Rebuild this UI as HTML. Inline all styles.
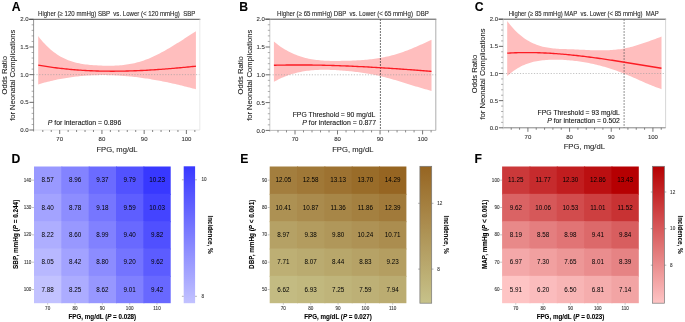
<!DOCTYPE html>
<html><head><meta charset="utf-8"><style>
html,body{margin:0;padding:0;background:#fff;width:685px;height:322px;overflow:hidden}
svg{display:block;filter:blur(0.3px)}
text{font-family:"Liberation Sans", sans-serif}
</style></head><body>
<svg width="685" height="322" viewBox="0 0 685 322">
<rect width="685" height="322" fill="#fff"/>
<polygon points="38.20,36.11 39.78,38.13 41.35,40.05 42.93,41.88 44.51,43.61 46.09,45.25 47.66,46.81 49.24,48.28 50.82,49.66 52.39,50.97 53.97,52.20 55.55,53.35 57.12,54.43 58.70,55.44 60.28,56.38 61.86,57.26 63.43,58.07 65.01,58.83 66.59,59.52 68.16,60.17 69.74,60.76 71.32,61.30 72.89,61.79 74.47,62.25 76.05,62.65 77.62,63.02 79.20,63.36 80.78,63.66 82.36,63.93 83.93,64.17 85.51,64.38 87.09,64.57 88.66,64.74 90.24,64.89 91.82,65.03 93.40,65.15 94.97,65.26 96.55,65.36 98.13,65.46 99.70,65.54 101.28,65.61 102.86,65.67 104.43,65.72 106.01,65.75 107.59,65.77 109.17,65.78 110.74,65.76 112.32,65.73 113.90,65.69 115.47,65.62 117.05,65.54 118.63,65.44 120.20,65.31 121.78,65.17 123.36,65.00 124.94,64.81 126.51,64.59 128.09,64.35 129.67,64.09 131.24,63.80 132.82,63.48 134.40,63.13 135.97,62.76 137.55,62.35 139.13,61.92 140.70,61.45 142.28,60.95 143.86,60.42 145.44,59.86 147.01,59.26 148.59,58.63 150.17,57.97 151.74,57.29 153.32,56.57 154.90,55.83 156.47,55.06 158.05,54.27 159.63,53.46 161.21,52.62 162.78,51.77 164.36,50.89 165.94,50.00 167.51,49.09 169.09,48.17 170.67,47.23 172.25,46.28 173.82,45.32 175.40,44.35 176.98,43.36 178.55,42.38 180.13,41.38 181.71,40.38 183.28,39.38 184.86,38.37 186.44,37.37 188.01,36.36 189.59,35.35 191.17,34.35 192.75,33.35 194.32,32.35 195.90,31.36 195.90,89.29 194.32,88.86 192.75,88.44 191.17,88.01 189.59,87.60 188.01,87.19 186.44,86.78 184.86,86.38 183.28,85.99 181.71,85.60 180.13,85.22 178.55,84.84 176.98,84.47 175.40,84.10 173.82,83.74 172.25,83.39 170.67,83.04 169.09,82.70 167.51,82.36 165.94,82.04 164.36,81.71 162.78,81.40 161.21,81.09 159.63,80.79 158.05,80.49 156.47,80.20 154.90,79.92 153.32,79.64 151.74,79.38 150.17,79.12 148.59,78.86 147.01,78.62 145.44,78.38 143.86,78.15 142.28,77.93 140.70,77.71 139.13,77.51 137.55,77.31 135.97,77.11 134.40,76.93 132.82,76.76 131.24,76.59 129.67,76.43 128.09,76.28 126.51,76.14 124.94,76.01 123.36,75.88 121.78,75.77 120.20,75.66 118.63,75.56 117.05,75.47 115.47,75.39 113.90,75.32 112.32,75.26 110.74,75.21 109.17,75.17 107.59,75.14 106.01,75.11 104.43,75.10 102.86,75.09 101.28,75.10 99.70,75.12 98.13,75.14 96.55,75.18 94.97,75.23 93.40,75.28 91.82,75.35 90.24,75.43 88.66,75.51 87.09,75.61 85.51,75.72 83.93,75.84 82.36,75.97 80.78,76.12 79.20,76.27 77.62,76.43 76.05,76.61 74.47,76.80 72.89,76.99 71.32,77.20 69.74,77.43 68.16,77.66 66.59,77.90 65.01,78.16 63.43,78.43 61.86,78.71 60.28,79.00 58.70,79.30 57.12,79.62 55.55,79.95 53.97,80.29 52.39,80.65 50.82,81.01 49.24,81.39 47.66,81.78 46.09,82.19 44.51,82.61 42.93,83.04 41.35,83.48 39.78,83.94 38.20,84.41" fill="#ffbebe"/>
<line x1="33.60" y1="74.65" x2="199.80" y2="74.65" stroke="#9a9a9a" stroke-width="0.6" stroke-dasharray="1.2 1.6"/>
<polyline points="38.20,65.10 39.78,65.38 41.35,65.65 42.93,65.91 44.51,66.17 46.09,66.42 47.66,66.66 49.24,66.89 50.82,67.12 52.39,67.34 53.97,67.55 55.55,67.76 57.12,67.96 58.70,68.15 60.28,68.34 61.86,68.52 63.43,68.69 65.01,68.86 66.59,69.02 68.16,69.18 69.74,69.33 71.32,69.47 72.89,69.61 74.47,69.74 76.05,69.86 77.62,69.98 79.20,70.09 80.78,70.20 82.36,70.30 83.93,70.40 85.51,70.49 87.09,70.57 88.66,70.65 90.24,70.72 91.82,70.79 93.40,70.85 94.97,70.91 96.55,70.96 98.13,71.01 99.70,71.05 101.28,71.09 102.86,71.12 104.43,71.15 106.01,71.17 107.59,71.19 109.17,71.20 110.74,71.21 112.32,71.21 113.90,71.21 115.47,71.20 117.05,71.19 118.63,71.18 120.20,71.16 121.78,71.13 123.36,71.11 124.94,71.07 126.51,71.04 128.09,71.00 129.67,70.95 131.24,70.90 132.82,70.85 134.40,70.79 135.97,70.73 137.55,70.67 139.13,70.60 140.70,70.53 142.28,70.46 143.86,70.38 145.44,70.30 147.01,70.21 148.59,70.12 150.17,70.03 151.74,69.94 153.32,69.84 154.90,69.74 156.47,69.63 158.05,69.53 159.63,69.42 161.21,69.30 162.78,69.19 164.36,69.07 165.94,68.95 167.51,68.83 169.09,68.70 170.67,68.57 172.25,68.44 173.82,68.30 175.40,68.17 176.98,68.03 178.55,67.89 180.13,67.75 181.71,67.60 183.28,67.45 184.86,67.30 186.44,67.15 188.01,67.00 189.59,66.85 191.17,66.69 192.75,66.53 194.32,66.37 195.90,66.21" fill="none" stroke="#fc1c24" stroke-width="1.35" stroke-linejoin="round"/>
<line x1="29.00" y1="19.30" x2="200.30" y2="19.30" stroke="#555" stroke-width="1"/>
<line x1="199.80" y1="19.30" x2="199.80" y2="130.00" stroke="#e4e4e4" stroke-width="0.8"/>
<line x1="33.60" y1="130.00" x2="199.80" y2="130.00" stroke="#e0e0e0" stroke-width="0.8"/>
<line x1="33.60" y1="19.30" x2="33.60" y2="131.50" stroke="#777" stroke-width="0.8"/>
<line x1="29.40" y1="130.00" x2="33.60" y2="130.00" stroke="#444" stroke-width="0.8"/>
<text x="28.60" y="132.10" font-size="6" text-anchor="end" fill="#333" stroke="#333" stroke-width="0.09" >0.0</text>
<line x1="31.60" y1="124.47" x2="33.60" y2="124.47" stroke="#777" stroke-width="0.6"/>
<line x1="31.60" y1="118.93" x2="33.60" y2="118.93" stroke="#777" stroke-width="0.6"/>
<line x1="31.60" y1="113.39" x2="33.60" y2="113.39" stroke="#777" stroke-width="0.6"/>
<line x1="31.60" y1="107.86" x2="33.60" y2="107.86" stroke="#777" stroke-width="0.6"/>
<line x1="29.40" y1="102.33" x2="33.60" y2="102.33" stroke="#444" stroke-width="0.8"/>
<text x="28.60" y="104.42" font-size="6" text-anchor="end" fill="#333" stroke="#333" stroke-width="0.09" >0.5</text>
<line x1="31.60" y1="96.79" x2="33.60" y2="96.79" stroke="#777" stroke-width="0.6"/>
<line x1="31.60" y1="91.25" x2="33.60" y2="91.25" stroke="#777" stroke-width="0.6"/>
<line x1="31.60" y1="85.72" x2="33.60" y2="85.72" stroke="#777" stroke-width="0.6"/>
<line x1="31.60" y1="80.19" x2="33.60" y2="80.19" stroke="#777" stroke-width="0.6"/>
<line x1="29.40" y1="74.65" x2="33.60" y2="74.65" stroke="#444" stroke-width="0.8"/>
<text x="28.60" y="76.75" font-size="6" text-anchor="end" fill="#333" stroke="#333" stroke-width="0.09" >1.0</text>
<line x1="31.60" y1="69.11" x2="33.60" y2="69.11" stroke="#777" stroke-width="0.6"/>
<line x1="31.60" y1="63.58" x2="33.60" y2="63.58" stroke="#777" stroke-width="0.6"/>
<line x1="31.60" y1="58.05" x2="33.60" y2="58.05" stroke="#777" stroke-width="0.6"/>
<line x1="31.60" y1="52.51" x2="33.60" y2="52.51" stroke="#777" stroke-width="0.6"/>
<line x1="29.40" y1="46.97" x2="33.60" y2="46.97" stroke="#444" stroke-width="0.8"/>
<text x="28.60" y="49.07" font-size="6" text-anchor="end" fill="#333" stroke="#333" stroke-width="0.09" >1.5</text>
<line x1="31.60" y1="41.44" x2="33.60" y2="41.44" stroke="#777" stroke-width="0.6"/>
<line x1="31.60" y1="35.90" x2="33.60" y2="35.90" stroke="#777" stroke-width="0.6"/>
<line x1="31.60" y1="30.37" x2="33.60" y2="30.37" stroke="#777" stroke-width="0.6"/>
<line x1="31.60" y1="24.83" x2="33.60" y2="24.83" stroke="#777" stroke-width="0.6"/>
<line x1="29.40" y1="19.30" x2="33.60" y2="19.30" stroke="#444" stroke-width="0.8"/>
<text x="28.60" y="21.40" font-size="6" text-anchor="end" fill="#333" stroke="#333" stroke-width="0.09" >2.0</text>
<line x1="42.81" y1="130.00" x2="42.81" y2="132.00" stroke="#555" stroke-width="0.7"/>
<line x1="51.25" y1="130.00" x2="51.25" y2="132.00" stroke="#555" stroke-width="0.7"/>
<line x1="59.70" y1="130.00" x2="59.70" y2="134.00" stroke="#555" stroke-width="0.8"/>
<text x="59.70" y="141.00" font-size="6" text-anchor="middle" fill="#333" stroke="#333" stroke-width="0.09" >70</text>
<line x1="68.15" y1="130.00" x2="68.15" y2="132.00" stroke="#555" stroke-width="0.7"/>
<line x1="76.59" y1="130.00" x2="76.59" y2="132.00" stroke="#555" stroke-width="0.7"/>
<line x1="85.04" y1="130.00" x2="85.04" y2="132.00" stroke="#555" stroke-width="0.7"/>
<line x1="93.48" y1="130.00" x2="93.48" y2="132.00" stroke="#555" stroke-width="0.7"/>
<line x1="101.93" y1="130.00" x2="101.93" y2="134.00" stroke="#555" stroke-width="0.8"/>
<text x="101.93" y="141.00" font-size="6" text-anchor="middle" fill="#333" stroke="#333" stroke-width="0.09" >80</text>
<line x1="110.38" y1="130.00" x2="110.38" y2="132.00" stroke="#555" stroke-width="0.7"/>
<line x1="118.82" y1="130.00" x2="118.82" y2="132.00" stroke="#555" stroke-width="0.7"/>
<line x1="127.27" y1="130.00" x2="127.27" y2="132.00" stroke="#555" stroke-width="0.7"/>
<line x1="135.71" y1="130.00" x2="135.71" y2="132.00" stroke="#555" stroke-width="0.7"/>
<line x1="144.16" y1="130.00" x2="144.16" y2="134.00" stroke="#555" stroke-width="0.8"/>
<text x="144.16" y="141.00" font-size="6" text-anchor="middle" fill="#333" stroke="#333" stroke-width="0.09" >90</text>
<line x1="152.61" y1="130.00" x2="152.61" y2="132.00" stroke="#555" stroke-width="0.7"/>
<line x1="161.05" y1="130.00" x2="161.05" y2="132.00" stroke="#555" stroke-width="0.7"/>
<line x1="169.50" y1="130.00" x2="169.50" y2="132.00" stroke="#555" stroke-width="0.7"/>
<line x1="177.94" y1="130.00" x2="177.94" y2="132.00" stroke="#555" stroke-width="0.7"/>
<line x1="186.39" y1="130.00" x2="186.39" y2="134.00" stroke="#555" stroke-width="0.8"/>
<text x="186.39" y="141.00" font-size="6" text-anchor="middle" fill="#333" stroke="#333" stroke-width="0.09" >100</text>
<line x1="194.84" y1="130.00" x2="194.84" y2="132.00" stroke="#555" stroke-width="0.7"/>
<text x="117.00" y="151.90" font-size="8" text-anchor="middle" fill="#222" textLength="41.2" lengthAdjust="spacingAndGlyphs" stroke="#222" stroke-width="0.09" >FPG, mg/dL</text>
<text x="7.00" y="75.30" font-size="7.6" text-anchor="middle" fill="#222" textLength="38.4" lengthAdjust="spacingAndGlyphs" transform="rotate(-90 7.00 75.30)" stroke="#222" stroke-width="0.09" >Odds Ratio</text>
<text x="15.40" y="75.30" font-size="7.6" text-anchor="middle" fill="#222" textLength="91.1" lengthAdjust="spacingAndGlyphs" transform="rotate(-90 15.40 75.30)" stroke="#222" stroke-width="0.09" >for Neonatal Complications</text>
<text x="38.00" y="16.40" font-size="7" text-anchor="start" fill="#222" textLength="157.4" lengthAdjust="spacingAndGlyphs" style="white-space:pre" stroke="#222" stroke-width="0.09" xml:space="preserve">Higher (≥ 120 mmHg) SBP  vs. Lower (&lt; 120 mmHg)  SBP</text>
<text x="11.80" y="11.30" font-size="12.2" text-anchor="start" fill="#000" font-weight="bold" stroke="#000" stroke-width="0.09" >A</text>
<text x="47.70" y="124.60" font-size="7" text-anchor="start" fill="#111" textLength="73.6" lengthAdjust="spacingAndGlyphs" stroke="#111" stroke-width="0.09" ><tspan font-style="italic">P</tspan> for interaction = 0.896</text>
<polygon points="273.90,41.56 275.48,42.85 277.05,44.09 278.63,45.27 280.20,46.39 281.78,47.46 283.36,48.48 284.93,49.44 286.51,50.36 288.08,51.22 289.66,52.04 291.24,52.81 292.81,53.54 294.39,54.22 295.96,54.87 297.54,55.47 299.12,56.03 300.69,56.55 302.27,57.03 303.84,57.48 305.42,57.90 307.00,58.28 308.57,58.63 310.15,58.94 311.72,59.23 313.30,59.49 314.88,59.73 316.45,59.94 318.03,60.12 319.60,60.28 321.18,60.42 322.76,60.54 324.33,60.64 325.91,60.73 327.48,60.79 329.06,60.84 330.64,60.88 332.21,60.90 333.79,60.92 335.36,60.92 336.94,60.92 338.52,60.90 340.09,60.89 341.67,60.86 343.24,60.84 344.82,60.81 346.40,60.77 347.97,60.73 349.55,60.69 351.12,60.64 352.70,60.58 354.28,60.52 355.85,60.45 357.43,60.37 359.00,60.28 360.58,60.18 362.16,60.07 363.73,59.96 365.31,59.83 366.88,59.69 368.46,59.53 370.04,59.37 371.61,59.19 373.19,58.99 374.76,58.79 376.34,58.56 377.92,58.32 379.49,58.07 381.07,57.80 382.64,57.51 384.22,57.20 385.80,56.87 387.37,56.53 388.95,56.16 390.52,55.78 392.10,55.37 393.68,54.94 395.25,54.49 396.83,54.02 398.40,53.52 399.98,53.01 401.56,52.47 403.13,51.92 404.71,51.35 406.28,50.76 407.86,50.15 409.44,49.53 411.01,48.90 412.59,48.25 414.16,47.59 415.74,46.92 417.32,46.24 418.89,45.56 420.47,44.86 422.04,44.15 423.62,43.44 425.20,42.73 426.77,42.01 428.35,41.29 429.92,40.56 431.50,39.83 431.50,90.88 429.92,90.47 428.35,90.05 426.77,89.62 425.20,89.18 423.62,88.73 422.04,88.27 420.47,87.80 418.89,87.33 417.32,86.86 415.74,86.38 414.16,85.89 412.59,85.41 411.01,84.92 409.44,84.43 407.86,83.94 406.28,83.45 404.71,82.96 403.13,82.47 401.56,81.99 399.98,81.51 398.40,81.03 396.83,80.56 395.25,80.10 393.68,79.64 392.10,79.19 390.52,78.75 388.95,78.32 387.37,77.90 385.80,77.48 384.22,77.08 382.64,76.69 381.07,76.31 379.49,75.94 377.92,75.58 376.34,75.24 374.76,74.91 373.19,74.59 371.61,74.28 370.04,73.99 368.46,73.71 366.88,73.45 365.31,73.19 363.73,72.95 362.16,72.71 360.58,72.49 359.00,72.28 357.43,72.08 355.85,71.89 354.28,71.70 352.70,71.53 351.12,71.37 349.55,71.21 347.97,71.06 346.40,70.92 344.82,70.78 343.24,70.65 341.67,70.53 340.09,70.42 338.52,70.31 336.94,70.21 335.36,70.11 333.79,70.03 332.21,69.96 330.64,69.90 329.06,69.85 327.48,69.81 325.91,69.79 324.33,69.78 322.76,69.79 321.18,69.81 319.60,69.85 318.03,69.90 316.45,69.98 314.88,70.07 313.30,70.19 311.72,70.32 310.15,70.48 308.57,70.65 307.00,70.85 305.42,71.08 303.84,71.33 302.27,71.60 300.69,71.91 299.12,72.23 297.54,72.59 295.96,72.98 294.39,73.39 292.81,73.84 291.24,74.31 289.66,74.82 288.08,75.36 286.51,75.93 284.93,76.54 283.36,77.19 281.78,77.87 280.20,78.58 278.63,79.34 277.05,80.13 275.48,80.96 273.90,81.83" fill="#ffbebe"/>
<line x1="269.80" y1="74.80" x2="435.80" y2="74.80" stroke="#9a9a9a" stroke-width="0.6" stroke-dasharray="1.2 1.6"/>
<line x1="380.40" y1="19.20" x2="380.40" y2="130.40" stroke="#222" stroke-width="0.8" stroke-dasharray="1.6 1.4"/>
<polyline points="273.90,65.28 275.48,65.24 277.05,65.20 278.63,65.17 280.20,65.13 281.78,65.10 283.36,65.08 284.93,65.05 286.51,65.03 288.08,65.01 289.66,65.00 291.24,64.98 292.81,64.97 294.39,64.96 295.96,64.96 297.54,64.96 299.12,64.96 300.69,64.96 302.27,64.96 303.84,64.97 305.42,64.98 307.00,64.99 308.57,65.00 310.15,65.02 311.72,65.04 313.30,65.06 314.88,65.08 316.45,65.11 318.03,65.13 319.60,65.16 321.18,65.20 322.76,65.23 324.33,65.27 325.91,65.30 327.48,65.34 329.06,65.39 330.64,65.43 332.21,65.48 333.79,65.53 335.36,65.58 336.94,65.63 338.52,65.68 340.09,65.74 341.67,65.80 343.24,65.85 344.82,65.92 346.40,65.98 347.97,66.04 349.55,66.11 351.12,66.18 352.70,66.25 354.28,66.32 355.85,66.39 357.43,66.47 359.00,66.55 360.58,66.62 362.16,66.70 363.73,66.78 365.31,66.87 366.88,66.95 368.46,67.04 370.04,67.12 371.61,67.21 373.19,67.30 374.76,67.39 376.34,67.48 377.92,67.58 379.49,67.67 381.07,67.77 382.64,67.86 384.22,67.96 385.80,68.06 387.37,68.16 388.95,68.26 390.52,68.37 392.10,68.47 393.68,68.58 395.25,68.68 396.83,68.79 398.40,68.90 399.98,69.01 401.56,69.12 403.13,69.23 404.71,69.34 406.28,69.45 407.86,69.56 409.44,69.68 411.01,69.79 412.59,69.91 414.16,70.03 415.74,70.14 417.32,70.26 418.89,70.38 420.47,70.50 422.04,70.62 423.62,70.74 425.20,70.86 426.77,70.98 428.35,71.10 429.92,71.22 431.50,71.35" fill="none" stroke="#fc1c24" stroke-width="1.35" stroke-linejoin="round"/>
<line x1="265.20" y1="19.20" x2="436.30" y2="19.20" stroke="#555" stroke-width="1"/>
<line x1="435.80" y1="19.20" x2="435.80" y2="130.40" stroke="#999" stroke-width="0.8"/>
<line x1="269.80" y1="130.40" x2="435.80" y2="130.40" stroke="#aaa" stroke-width="0.8"/>
<line x1="269.80" y1="19.20" x2="269.80" y2="131.90" stroke="#bbb" stroke-width="0.8"/>
<line x1="265.60" y1="130.40" x2="269.80" y2="130.40" stroke="#444" stroke-width="0.8"/>
<text x="264.80" y="132.50" font-size="6" text-anchor="end" fill="#333" stroke="#333" stroke-width="0.09" >0.0</text>
<line x1="267.80" y1="124.84" x2="269.80" y2="124.84" stroke="#777" stroke-width="0.6"/>
<line x1="267.80" y1="119.28" x2="269.80" y2="119.28" stroke="#777" stroke-width="0.6"/>
<line x1="267.80" y1="113.72" x2="269.80" y2="113.72" stroke="#777" stroke-width="0.6"/>
<line x1="267.80" y1="108.16" x2="269.80" y2="108.16" stroke="#777" stroke-width="0.6"/>
<line x1="265.60" y1="102.60" x2="269.80" y2="102.60" stroke="#444" stroke-width="0.8"/>
<text x="264.80" y="104.70" font-size="6" text-anchor="end" fill="#333" stroke="#333" stroke-width="0.09" >0.5</text>
<line x1="267.80" y1="97.04" x2="269.80" y2="97.04" stroke="#777" stroke-width="0.6"/>
<line x1="267.80" y1="91.48" x2="269.80" y2="91.48" stroke="#777" stroke-width="0.6"/>
<line x1="267.80" y1="85.92" x2="269.80" y2="85.92" stroke="#777" stroke-width="0.6"/>
<line x1="267.80" y1="80.36" x2="269.80" y2="80.36" stroke="#777" stroke-width="0.6"/>
<line x1="265.60" y1="74.80" x2="269.80" y2="74.80" stroke="#444" stroke-width="0.8"/>
<text x="264.80" y="76.90" font-size="6" text-anchor="end" fill="#333" stroke="#333" stroke-width="0.09" >1.0</text>
<line x1="267.80" y1="69.24" x2="269.80" y2="69.24" stroke="#777" stroke-width="0.6"/>
<line x1="267.80" y1="63.68" x2="269.80" y2="63.68" stroke="#777" stroke-width="0.6"/>
<line x1="267.80" y1="58.12" x2="269.80" y2="58.12" stroke="#777" stroke-width="0.6"/>
<line x1="267.80" y1="52.56" x2="269.80" y2="52.56" stroke="#777" stroke-width="0.6"/>
<line x1="265.60" y1="47.00" x2="269.80" y2="47.00" stroke="#444" stroke-width="0.8"/>
<text x="264.80" y="49.10" font-size="6" text-anchor="end" fill="#333" stroke="#333" stroke-width="0.09" >1.5</text>
<line x1="267.80" y1="41.44" x2="269.80" y2="41.44" stroke="#777" stroke-width="0.6"/>
<line x1="267.80" y1="35.88" x2="269.80" y2="35.88" stroke="#777" stroke-width="0.6"/>
<line x1="267.80" y1="30.32" x2="269.80" y2="30.32" stroke="#777" stroke-width="0.6"/>
<line x1="267.80" y1="24.76" x2="269.80" y2="24.76" stroke="#777" stroke-width="0.6"/>
<line x1="265.60" y1="19.20" x2="269.80" y2="19.20" stroke="#444" stroke-width="0.8"/>
<text x="264.80" y="21.30" font-size="6" text-anchor="end" fill="#333" stroke="#333" stroke-width="0.09" >2.0</text>
<line x1="277.99" y1="130.40" x2="277.99" y2="132.40" stroke="#555" stroke-width="0.7"/>
<line x1="286.49" y1="130.40" x2="286.49" y2="132.40" stroke="#555" stroke-width="0.7"/>
<line x1="295.00" y1="130.40" x2="295.00" y2="134.40" stroke="#555" stroke-width="0.8"/>
<text x="295.00" y="141.40" font-size="6" text-anchor="middle" fill="#333" stroke="#333" stroke-width="0.09" >70</text>
<line x1="303.51" y1="130.40" x2="303.51" y2="132.40" stroke="#555" stroke-width="0.7"/>
<line x1="312.01" y1="130.40" x2="312.01" y2="132.40" stroke="#555" stroke-width="0.7"/>
<line x1="320.52" y1="130.40" x2="320.52" y2="132.40" stroke="#555" stroke-width="0.7"/>
<line x1="329.02" y1="130.40" x2="329.02" y2="132.40" stroke="#555" stroke-width="0.7"/>
<line x1="337.53" y1="130.40" x2="337.53" y2="134.40" stroke="#555" stroke-width="0.8"/>
<text x="337.53" y="141.40" font-size="6" text-anchor="middle" fill="#333" stroke="#333" stroke-width="0.09" >80</text>
<line x1="346.04" y1="130.40" x2="346.04" y2="132.40" stroke="#555" stroke-width="0.7"/>
<line x1="354.54" y1="130.40" x2="354.54" y2="132.40" stroke="#555" stroke-width="0.7"/>
<line x1="363.05" y1="130.40" x2="363.05" y2="132.40" stroke="#555" stroke-width="0.7"/>
<line x1="371.55" y1="130.40" x2="371.55" y2="132.40" stroke="#555" stroke-width="0.7"/>
<line x1="380.06" y1="130.40" x2="380.06" y2="134.40" stroke="#555" stroke-width="0.8"/>
<text x="380.06" y="141.40" font-size="6" text-anchor="middle" fill="#333" stroke="#333" stroke-width="0.09" >90</text>
<line x1="388.57" y1="130.40" x2="388.57" y2="132.40" stroke="#555" stroke-width="0.7"/>
<line x1="397.07" y1="130.40" x2="397.07" y2="132.40" stroke="#555" stroke-width="0.7"/>
<line x1="405.58" y1="130.40" x2="405.58" y2="132.40" stroke="#555" stroke-width="0.7"/>
<line x1="414.08" y1="130.40" x2="414.08" y2="132.40" stroke="#555" stroke-width="0.7"/>
<line x1="422.59" y1="130.40" x2="422.59" y2="134.40" stroke="#555" stroke-width="0.8"/>
<text x="422.59" y="141.40" font-size="6" text-anchor="middle" fill="#333" stroke="#333" stroke-width="0.09" >100</text>
<line x1="431.10" y1="130.40" x2="431.10" y2="132.40" stroke="#555" stroke-width="0.7"/>
<text x="352.80" y="151.90" font-size="8" text-anchor="middle" fill="#222" textLength="41.2" lengthAdjust="spacingAndGlyphs" stroke="#222" stroke-width="0.09" >FPG, mg/dL</text>
<text x="243.20" y="75.30" font-size="7.6" text-anchor="middle" fill="#222" textLength="38.4" lengthAdjust="spacingAndGlyphs" transform="rotate(-90 243.20 75.30)" stroke="#222" stroke-width="0.09" >Odds Ratio</text>
<text x="251.60" y="75.30" font-size="7.6" text-anchor="middle" fill="#222" textLength="91.1" lengthAdjust="spacingAndGlyphs" transform="rotate(-90 251.60 75.30)" stroke="#222" stroke-width="0.09" >for Neonatal Complications</text>
<text x="277.00" y="16.40" font-size="7" text-anchor="start" fill="#222" textLength="151.8" lengthAdjust="spacingAndGlyphs" style="white-space:pre" stroke="#222" stroke-width="0.09" xml:space="preserve">Higher (≥ 65 mmHg) DBP  vs. Lower (&lt; 65 mmHg)  DBP</text>
<text x="239.30" y="11.30" font-size="12.2" text-anchor="start" fill="#000" font-weight="bold" stroke="#000" stroke-width="0.09" >B</text>
<text x="375.30" y="117.40" font-size="7" text-anchor="end" fill="#111" textLength="82.6" lengthAdjust="spacingAndGlyphs" stroke="#111" stroke-width="0.09" >FPG Threshold = 90 mg/dL</text>
<text x="376.00" y="125.00" font-size="7" text-anchor="end" fill="#111" textLength="73.7" lengthAdjust="spacingAndGlyphs" stroke="#111" stroke-width="0.09" ><tspan font-style="italic">P</tspan> for interaction = 0.877</text>
<polygon points="507.20,21.00 508.74,23.03 510.29,24.95 511.83,26.78 513.37,28.51 514.91,30.15 516.46,31.70 518.00,33.16 519.54,34.53 521.09,35.82 522.63,37.03 524.17,38.16 525.72,39.21 527.26,40.20 528.80,41.11 530.35,41.96 531.89,42.74 533.43,43.46 534.97,44.12 536.52,44.73 538.06,45.28 539.60,45.78 541.15,46.23 542.69,46.64 544.23,47.00 545.77,47.33 547.32,47.61 548.86,47.87 550.40,48.09 551.95,48.28 553.49,48.44 555.03,48.58 556.58,48.70 558.12,48.80 559.66,48.88 561.21,48.96 562.75,49.02 564.29,49.07 565.83,49.12 567.38,49.16 568.92,49.21 570.46,49.26 572.01,49.31 573.55,49.37 575.09,49.43 576.63,49.50 578.18,49.57 579.72,49.65 581.26,49.72 582.81,49.79 584.35,49.87 585.89,49.94 587.44,50.01 588.98,50.07 590.52,50.13 592.07,50.19 593.61,50.24 595.15,50.28 596.69,50.31 598.24,50.34 599.78,50.35 601.32,50.35 602.87,50.34 604.41,50.32 605.95,50.28 607.50,50.23 609.04,50.16 610.58,50.08 612.12,49.98 613.67,49.86 615.21,49.72 616.75,49.55 618.30,49.37 619.84,49.17 621.38,48.94 622.92,48.69 624.47,48.41 626.01,48.10 627.55,47.77 629.10,47.42 630.64,47.04 632.18,46.64 633.73,46.22 635.27,45.78 636.81,45.32 638.36,44.85 639.90,44.36 641.44,43.85 642.98,43.34 644.53,42.81 646.07,42.27 647.61,41.72 649.16,41.17 650.70,40.60 652.24,40.04 653.78,39.47 655.33,38.90 656.87,38.32 658.41,37.75 659.96,37.18 661.50,36.61 661.50,89.14 659.96,88.62 658.41,88.08 656.87,87.51 655.33,86.93 653.78,86.33 652.24,85.72 650.70,85.09 649.16,84.45 647.61,83.79 646.07,83.13 644.53,82.46 642.98,81.79 641.44,81.10 639.90,80.42 638.36,79.74 636.81,79.05 635.27,78.37 633.73,77.69 632.18,77.01 630.64,76.34 629.10,75.68 627.55,75.03 626.01,74.39 624.47,73.76 622.92,73.15 621.38,72.55 619.84,71.96 618.30,71.39 616.75,70.83 615.21,70.28 613.67,69.75 612.12,69.23 610.58,68.73 609.04,68.24 607.50,67.76 605.95,67.29 604.41,66.84 602.87,66.41 601.32,65.98 599.78,65.57 598.24,65.18 596.69,64.80 595.15,64.43 593.61,64.07 592.07,63.73 590.52,63.40 588.98,63.09 587.44,62.79 585.89,62.50 584.35,62.23 582.81,61.97 581.26,61.72 579.72,61.49 578.18,61.27 576.63,61.07 575.09,60.88 573.55,60.70 572.01,60.54 570.46,60.40 568.92,60.26 567.38,60.14 565.83,60.04 564.29,59.95 562.75,59.87 561.21,59.81 559.66,59.77 558.12,59.73 556.58,59.72 555.03,59.71 553.49,59.73 551.95,59.75 550.40,59.79 548.86,59.85 547.32,59.93 545.77,60.03 544.23,60.15 542.69,60.30 541.15,60.47 539.60,60.68 538.06,60.92 536.52,61.19 534.97,61.50 533.43,61.85 531.89,62.25 530.35,62.68 528.80,63.16 527.26,63.70 525.72,64.28 524.17,64.91 522.63,65.61 521.09,66.36 519.54,67.16 518.00,68.04 516.46,68.97 514.91,69.98 513.37,71.05 511.83,72.20 510.29,73.41 508.74,74.71 507.20,76.08" fill="#ffbebe"/>
<line x1="503.10" y1="73.50" x2="665.60" y2="73.50" stroke="#9a9a9a" stroke-width="0.6" stroke-dasharray="1.2 1.6"/>
<line x1="624.10" y1="19.20" x2="624.10" y2="127.80" stroke="#555" stroke-width="0.8" stroke-dasharray="1.6 1.4"/>
<polyline points="507.20,53.17 508.74,53.08 510.29,52.99 511.83,52.92 513.37,52.85 514.91,52.79 516.46,52.74 518.00,52.69 519.54,52.65 521.09,52.62 522.63,52.60 524.17,52.58 525.72,52.57 527.26,52.57 528.80,52.57 530.35,52.58 531.89,52.60 533.43,52.63 534.97,52.65 536.52,52.69 538.06,52.73 539.60,52.78 541.15,52.84 542.69,52.90 544.23,52.96 545.77,53.03 547.32,53.11 548.86,53.19 550.40,53.28 551.95,53.38 553.49,53.48 555.03,53.58 556.58,53.69 558.12,53.80 559.66,53.92 561.21,54.05 562.75,54.18 564.29,54.31 565.83,54.45 567.38,54.59 568.92,54.74 570.46,54.89 572.01,55.05 573.55,55.21 575.09,55.37 576.63,55.54 578.18,55.71 579.72,55.89 581.26,56.07 582.81,56.25 584.35,56.43 585.89,56.62 587.44,56.82 588.98,57.01 590.52,57.21 592.07,57.42 593.61,57.62 595.15,57.83 596.69,58.04 598.24,58.25 599.78,58.47 601.32,58.69 602.87,58.91 604.41,59.14 605.95,59.36 607.50,59.59 609.04,59.82 610.58,60.05 612.12,60.29 613.67,60.52 615.21,60.76 616.75,61.00 618.30,61.24 619.84,61.48 621.38,61.73 622.92,61.97 624.47,62.22 626.01,62.47 627.55,62.71 629.10,62.96 630.64,63.21 632.18,63.46 633.73,63.72 635.27,63.97 636.81,64.22 638.36,64.47 639.90,64.73 641.44,64.98 642.98,65.23 644.53,65.49 646.07,65.74 647.61,65.99 649.16,66.25 650.70,66.50 652.24,66.75 653.78,67.00 655.33,67.26 656.87,67.51 658.41,67.76 659.96,68.01 661.50,68.25" fill="none" stroke="#fc1c24" stroke-width="1.35" stroke-linejoin="round"/>
<line x1="498.50" y1="19.20" x2="666.10" y2="19.20" stroke="#555" stroke-width="1"/>
<line x1="665.60" y1="19.20" x2="665.60" y2="127.80" stroke="#ccc" stroke-width="0.8"/>
<line x1="503.10" y1="127.80" x2="665.60" y2="127.80" stroke="#666" stroke-width="0.8"/>
<line x1="503.10" y1="19.20" x2="503.10" y2="129.30" stroke="#ccc" stroke-width="0.8"/>
<line x1="498.90" y1="127.80" x2="503.10" y2="127.80" stroke="#444" stroke-width="0.8"/>
<text x="498.10" y="129.90" font-size="6" text-anchor="end" fill="#333" stroke="#333" stroke-width="0.09" >0.0</text>
<line x1="501.10" y1="122.37" x2="503.10" y2="122.37" stroke="#777" stroke-width="0.6"/>
<line x1="501.10" y1="116.94" x2="503.10" y2="116.94" stroke="#777" stroke-width="0.6"/>
<line x1="501.10" y1="111.51" x2="503.10" y2="111.51" stroke="#777" stroke-width="0.6"/>
<line x1="501.10" y1="106.08" x2="503.10" y2="106.08" stroke="#777" stroke-width="0.6"/>
<line x1="498.90" y1="100.65" x2="503.10" y2="100.65" stroke="#444" stroke-width="0.8"/>
<text x="498.10" y="102.75" font-size="6" text-anchor="end" fill="#333" stroke="#333" stroke-width="0.09" >0.5</text>
<line x1="501.10" y1="95.22" x2="503.10" y2="95.22" stroke="#777" stroke-width="0.6"/>
<line x1="501.10" y1="89.79" x2="503.10" y2="89.79" stroke="#777" stroke-width="0.6"/>
<line x1="501.10" y1="84.36" x2="503.10" y2="84.36" stroke="#777" stroke-width="0.6"/>
<line x1="501.10" y1="78.93" x2="503.10" y2="78.93" stroke="#777" stroke-width="0.6"/>
<line x1="498.90" y1="73.50" x2="503.10" y2="73.50" stroke="#444" stroke-width="0.8"/>
<text x="498.10" y="75.60" font-size="6" text-anchor="end" fill="#333" stroke="#333" stroke-width="0.09" >1.0</text>
<line x1="501.10" y1="68.07" x2="503.10" y2="68.07" stroke="#777" stroke-width="0.6"/>
<line x1="501.10" y1="62.64" x2="503.10" y2="62.64" stroke="#777" stroke-width="0.6"/>
<line x1="501.10" y1="57.21" x2="503.10" y2="57.21" stroke="#777" stroke-width="0.6"/>
<line x1="501.10" y1="51.78" x2="503.10" y2="51.78" stroke="#777" stroke-width="0.6"/>
<line x1="498.90" y1="46.35" x2="503.10" y2="46.35" stroke="#444" stroke-width="0.8"/>
<text x="498.10" y="48.45" font-size="6" text-anchor="end" fill="#333" stroke="#333" stroke-width="0.09" >1.5</text>
<line x1="501.10" y1="40.92" x2="503.10" y2="40.92" stroke="#777" stroke-width="0.6"/>
<line x1="501.10" y1="35.49" x2="503.10" y2="35.49" stroke="#777" stroke-width="0.6"/>
<line x1="501.10" y1="30.06" x2="503.10" y2="30.06" stroke="#777" stroke-width="0.6"/>
<line x1="501.10" y1="24.63" x2="503.10" y2="24.63" stroke="#777" stroke-width="0.6"/>
<line x1="498.90" y1="19.20" x2="503.10" y2="19.20" stroke="#444" stroke-width="0.8"/>
<text x="498.10" y="21.30" font-size="6" text-anchor="end" fill="#333" stroke="#333" stroke-width="0.09" >2.0</text>
<line x1="511.23" y1="127.80" x2="511.23" y2="129.80" stroke="#555" stroke-width="0.7"/>
<line x1="519.57" y1="127.80" x2="519.57" y2="129.80" stroke="#555" stroke-width="0.7"/>
<line x1="527.90" y1="127.80" x2="527.90" y2="131.80" stroke="#555" stroke-width="0.8"/>
<text x="527.90" y="138.80" font-size="6" text-anchor="middle" fill="#333" stroke="#333" stroke-width="0.09" >70</text>
<line x1="536.23" y1="127.80" x2="536.23" y2="129.80" stroke="#555" stroke-width="0.7"/>
<line x1="544.57" y1="127.80" x2="544.57" y2="129.80" stroke="#555" stroke-width="0.7"/>
<line x1="552.90" y1="127.80" x2="552.90" y2="129.80" stroke="#555" stroke-width="0.7"/>
<line x1="561.24" y1="127.80" x2="561.24" y2="129.80" stroke="#555" stroke-width="0.7"/>
<line x1="569.57" y1="127.80" x2="569.57" y2="131.80" stroke="#555" stroke-width="0.8"/>
<text x="569.57" y="138.80" font-size="6" text-anchor="middle" fill="#333" stroke="#333" stroke-width="0.09" >80</text>
<line x1="577.90" y1="127.80" x2="577.90" y2="129.80" stroke="#555" stroke-width="0.7"/>
<line x1="586.24" y1="127.80" x2="586.24" y2="129.80" stroke="#555" stroke-width="0.7"/>
<line x1="594.57" y1="127.80" x2="594.57" y2="129.80" stroke="#555" stroke-width="0.7"/>
<line x1="602.91" y1="127.80" x2="602.91" y2="129.80" stroke="#555" stroke-width="0.7"/>
<line x1="611.24" y1="127.80" x2="611.24" y2="131.80" stroke="#555" stroke-width="0.8"/>
<text x="611.24" y="138.80" font-size="6" text-anchor="middle" fill="#333" stroke="#333" stroke-width="0.09" >90</text>
<line x1="619.57" y1="127.80" x2="619.57" y2="129.80" stroke="#555" stroke-width="0.7"/>
<line x1="627.91" y1="127.80" x2="627.91" y2="129.80" stroke="#555" stroke-width="0.7"/>
<line x1="636.24" y1="127.80" x2="636.24" y2="129.80" stroke="#555" stroke-width="0.7"/>
<line x1="644.58" y1="127.80" x2="644.58" y2="129.80" stroke="#555" stroke-width="0.7"/>
<line x1="652.91" y1="127.80" x2="652.91" y2="131.80" stroke="#555" stroke-width="0.8"/>
<text x="652.91" y="138.80" font-size="6" text-anchor="middle" fill="#333" stroke="#333" stroke-width="0.09" >100</text>
<line x1="661.24" y1="127.80" x2="661.24" y2="129.80" stroke="#555" stroke-width="0.7"/>
<text x="584.30" y="148.80" font-size="8" text-anchor="middle" fill="#222" textLength="41.2" lengthAdjust="spacingAndGlyphs" stroke="#222" stroke-width="0.09" >FPG, mg/dL</text>
<text x="476.50" y="74.00" font-size="7.6" text-anchor="middle" fill="#222" textLength="38.4" lengthAdjust="spacingAndGlyphs" transform="rotate(-90 476.50 74.00)" stroke="#222" stroke-width="0.09" >Odds Ratio</text>
<text x="484.90" y="74.00" font-size="7.6" text-anchor="middle" fill="#222" textLength="91.1" lengthAdjust="spacingAndGlyphs" transform="rotate(-90 484.90 74.00)" stroke="#222" stroke-width="0.09" >for Neonatal Complications</text>
<text x="508.80" y="16.40" font-size="7" text-anchor="start" fill="#222" textLength="149.9" lengthAdjust="spacingAndGlyphs" style="white-space:pre" stroke="#222" stroke-width="0.09" xml:space="preserve">Higher (≥ 85 mmHg) MAP  vs. Lower (&lt; 85 mmHg)  MAP</text>
<text x="474.80" y="11.30" font-size="12.2" text-anchor="start" fill="#000" font-weight="bold" stroke="#000" stroke-width="0.09" >C</text>
<text x="619.90" y="115.40" font-size="7" text-anchor="end" fill="#111" textLength="82.3" lengthAdjust="spacingAndGlyphs" stroke="#111" stroke-width="0.09" >FPG Threshold = 93 mg/dL</text>
<text x="619.90" y="122.60" font-size="7" text-anchor="end" fill="#111" textLength="72.7" lengthAdjust="spacingAndGlyphs" stroke="#111" stroke-width="0.09" ><tspan font-style="italic">P</tspan> for interaction = 0.502</text>
<rect x="34.00" y="166.50" width="28.34" height="28.34" fill="#9999ff"/>
<rect x="61.34" y="166.50" width="28.34" height="28.34" fill="#8383ff"/>
<rect x="88.68" y="166.50" width="28.34" height="28.34" fill="#6b6bff"/>
<rect x="116.02" y="166.50" width="28.34" height="28.34" fill="#5252ff"/>
<rect x="143.36" y="166.50" width="27.34" height="28.34" fill="#3838ff"/>
<rect x="34.00" y="193.84" width="28.34" height="28.34" fill="#a3a3ff"/>
<rect x="61.34" y="193.84" width="28.34" height="28.34" fill="#8d8dff"/>
<rect x="88.68" y="193.84" width="28.34" height="28.34" fill="#7676ff"/>
<rect x="116.02" y="193.84" width="28.34" height="28.34" fill="#5e5eff"/>
<rect x="143.36" y="193.84" width="27.34" height="28.34" fill="#4444ff"/>
<rect x="34.00" y="221.18" width="28.34" height="28.34" fill="#aeaeff"/>
<rect x="61.34" y="221.18" width="28.34" height="28.34" fill="#9898ff"/>
<rect x="88.68" y="221.18" width="28.34" height="28.34" fill="#8181ff"/>
<rect x="116.02" y="221.18" width="28.34" height="28.34" fill="#6969ff"/>
<rect x="143.36" y="221.18" width="27.34" height="28.34" fill="#5050ff"/>
<rect x="34.00" y="248.52" width="28.34" height="28.34" fill="#b8b8ff"/>
<rect x="61.34" y="248.52" width="28.34" height="28.34" fill="#a2a2ff"/>
<rect x="88.68" y="248.52" width="28.34" height="28.34" fill="#8c8cff"/>
<rect x="116.02" y="248.52" width="28.34" height="28.34" fill="#7474ff"/>
<rect x="143.36" y="248.52" width="27.34" height="28.34" fill="#5c5cff"/>
<rect x="34.00" y="275.86" width="28.34" height="27.34" fill="#c2c2ff"/>
<rect x="61.34" y="275.86" width="28.34" height="27.34" fill="#acacff"/>
<rect x="88.68" y="275.86" width="28.34" height="27.34" fill="#9797ff"/>
<rect x="116.02" y="275.86" width="28.34" height="27.34" fill="#8080ff"/>
<rect x="143.36" y="275.86" width="27.34" height="27.34" fill="#6868ff"/>
<text x="47.67" y="182.42" font-size="6.3" text-anchor="middle" fill="#000" stroke="none">8.57</text>
<text x="75.01" y="182.42" font-size="6.3" text-anchor="middle" fill="#000" stroke="none">8.96</text>
<text x="102.35" y="182.42" font-size="6.3" text-anchor="middle" fill="#000" stroke="none">9.37</text>
<text x="129.69" y="182.42" font-size="6.3" text-anchor="middle" fill="#000" stroke="none">9.79</text>
<text x="157.03" y="182.42" font-size="6.3" text-anchor="middle" fill="#000" stroke="none">10.23</text>
<text x="47.67" y="209.76" font-size="6.3" text-anchor="middle" fill="#000" stroke="none">8.40</text>
<text x="75.01" y="209.76" font-size="6.3" text-anchor="middle" fill="#000" stroke="none">8.78</text>
<text x="102.35" y="209.76" font-size="6.3" text-anchor="middle" fill="#000" stroke="none">9.18</text>
<text x="129.69" y="209.76" font-size="6.3" text-anchor="middle" fill="#000" stroke="none">9.59</text>
<text x="157.03" y="209.76" font-size="6.3" text-anchor="middle" fill="#000" stroke="none">10.03</text>
<text x="47.67" y="237.10" font-size="6.3" text-anchor="middle" fill="#000" stroke="none">8.22</text>
<text x="75.01" y="237.10" font-size="6.3" text-anchor="middle" fill="#000" stroke="none">8.60</text>
<text x="102.35" y="237.10" font-size="6.3" text-anchor="middle" fill="#000" stroke="none">8.99</text>
<text x="129.69" y="237.10" font-size="6.3" text-anchor="middle" fill="#000" stroke="none">9.40</text>
<text x="157.03" y="237.10" font-size="6.3" text-anchor="middle" fill="#000" stroke="none">9.82</text>
<text x="47.67" y="264.44" font-size="6.3" text-anchor="middle" fill="#000" stroke="none">8.05</text>
<text x="75.01" y="264.44" font-size="6.3" text-anchor="middle" fill="#000" stroke="none">8.42</text>
<text x="102.35" y="264.44" font-size="6.3" text-anchor="middle" fill="#000" stroke="none">8.80</text>
<text x="129.69" y="264.44" font-size="6.3" text-anchor="middle" fill="#000" stroke="none">9.20</text>
<text x="157.03" y="264.44" font-size="6.3" text-anchor="middle" fill="#000" stroke="none">9.62</text>
<text x="47.67" y="291.78" font-size="6.3" text-anchor="middle" fill="#000" stroke="none">7.88</text>
<text x="75.01" y="291.78" font-size="6.3" text-anchor="middle" fill="#000" stroke="none">8.25</text>
<text x="102.35" y="291.78" font-size="6.3" text-anchor="middle" fill="#000" stroke="none">8.62</text>
<text x="129.69" y="291.78" font-size="6.3" text-anchor="middle" fill="#000" stroke="none">9.01</text>
<text x="157.03" y="291.78" font-size="6.3" text-anchor="middle" fill="#000" stroke="none">9.42</text>
<line x1="32.00" y1="180.17" x2="34.00" y2="180.17" stroke="#888" stroke-width="0.5"/>
<text x="31.40" y="181.77" font-size="4.6" text-anchor="end" fill="#333" stroke="#333" stroke-width="0.09" >140</text>
<line x1="32.00" y1="207.51" x2="34.00" y2="207.51" stroke="#888" stroke-width="0.5"/>
<text x="31.40" y="209.11" font-size="4.6" text-anchor="end" fill="#333" stroke="#333" stroke-width="0.09" >130</text>
<line x1="32.00" y1="234.85" x2="34.00" y2="234.85" stroke="#888" stroke-width="0.5"/>
<text x="31.40" y="236.45" font-size="4.6" text-anchor="end" fill="#333" stroke="#333" stroke-width="0.09" >120</text>
<line x1="32.00" y1="262.19" x2="34.00" y2="262.19" stroke="#888" stroke-width="0.5"/>
<text x="31.40" y="263.79" font-size="4.6" text-anchor="end" fill="#333" stroke="#333" stroke-width="0.09" >110</text>
<line x1="32.00" y1="289.53" x2="34.00" y2="289.53" stroke="#888" stroke-width="0.5"/>
<text x="31.40" y="291.13" font-size="4.6" text-anchor="end" fill="#333" stroke="#333" stroke-width="0.09" >100</text>
<line x1="47.67" y1="303.20" x2="47.67" y2="304.70" stroke="#888" stroke-width="0.5"/>
<text x="47.67" y="309.80" font-size="4.6" text-anchor="middle" fill="#333" stroke="#333" stroke-width="0.09" >70</text>
<line x1="75.01" y1="303.20" x2="75.01" y2="304.70" stroke="#888" stroke-width="0.5"/>
<text x="75.01" y="309.80" font-size="4.6" text-anchor="middle" fill="#333" stroke="#333" stroke-width="0.09" >80</text>
<line x1="102.35" y1="303.20" x2="102.35" y2="304.70" stroke="#888" stroke-width="0.5"/>
<text x="102.35" y="309.80" font-size="4.6" text-anchor="middle" fill="#333" stroke="#333" stroke-width="0.09" >90</text>
<line x1="129.69" y1="303.20" x2="129.69" y2="304.70" stroke="#888" stroke-width="0.5"/>
<text x="129.69" y="309.80" font-size="4.6" text-anchor="middle" fill="#333" stroke="#333" stroke-width="0.09" >100</text>
<line x1="157.03" y1="303.20" x2="157.03" y2="304.70" stroke="#888" stroke-width="0.5"/>
<text x="157.03" y="309.80" font-size="4.6" text-anchor="middle" fill="#333" stroke="#333" stroke-width="0.09" >110</text>
<text x="102.35" y="319.10" font-size="6.4" text-anchor="middle" fill="#000" font-weight="bold" textLength="67.6" lengthAdjust="spacingAndGlyphs" stroke="#000" stroke-width="0.09" >FPG, mg/dL (<tspan font-style="italic">P</tspan> = 0.028)</text>
<text x="17.80" y="234.30" font-size="6.6" text-anchor="middle" fill="#000" font-weight="bold" textLength="69.2" lengthAdjust="spacingAndGlyphs" transform="rotate(-90 17.80 234.30)" stroke="#000" stroke-width="0.09" >SBP, mmHg (<tspan font-style="italic">P</tspan> = 0.244)</text>
<defs><linearGradient id="gD" x1="0" y1="0" x2="0" y2="1"><stop offset="0.00" stop-color="#3838ff"/><stop offset="0.10" stop-color="#4646ff"/><stop offset="0.20" stop-color="#5454ff"/><stop offset="0.30" stop-color="#6161ff"/><stop offset="0.40" stop-color="#6f6fff"/><stop offset="0.50" stop-color="#7d7dff"/><stop offset="0.60" stop-color="#8b8bff"/><stop offset="0.70" stop-color="#9999ff"/><stop offset="0.80" stop-color="#a6a6ff"/><stop offset="0.90" stop-color="#b4b4ff"/><stop offset="1.00" stop-color="#c2c2ff"/></linearGradient></defs>
<rect x="183.70" y="166.3" width="11.4" height="136.90" fill="url(#gD)" stroke="none" stroke-width="0"/>
<line x1="181.90" y1="179.80" x2="183.70" y2="179.80" stroke="#666" stroke-width="0.5"/>
<line x1="195.10" y1="179.80" x2="196.90" y2="179.80" stroke="#666" stroke-width="0.5"/>
<text x="201.40" y="181.40" font-size="4.6" text-anchor="start" fill="#333" stroke="#333" stroke-width="0.09" >10</text>
<line x1="181.90" y1="296.30" x2="183.70" y2="296.30" stroke="#666" stroke-width="0.5"/>
<line x1="195.10" y1="296.30" x2="196.90" y2="296.30" stroke="#666" stroke-width="0.5"/>
<text x="201.40" y="297.90" font-size="4.6" text-anchor="start" fill="#333" stroke="#333" stroke-width="0.09" >8</text>
<text x="207.90" y="234.50" font-size="6.3" text-anchor="middle" fill="#111" font-weight="bold" textLength="38" lengthAdjust="spacingAndGlyphs" transform="rotate(90 207.90 234.50)" stroke="#111" stroke-width="0.09" >Incidence, %</text>
<text x="11.60" y="162.90" font-size="12.2" text-anchor="start" fill="#000" font-weight="bold" stroke="#000" stroke-width="0.09" >D</text>
<rect x="269.70" y="166.50" width="28.34" height="28.34" fill="#a37e3e"/>
<rect x="297.04" y="166.50" width="28.34" height="28.34" fill="#a07837"/>
<rect x="324.38" y="166.50" width="28.34" height="28.34" fill="#9d7231"/>
<rect x="351.72" y="166.50" width="28.34" height="28.34" fill="#996c29"/>
<rect x="379.06" y="166.50" width="27.34" height="28.34" fill="#966522"/>
<rect x="269.70" y="193.84" width="28.34" height="28.34" fill="#ad9153"/>
<rect x="297.04" y="193.84" width="28.34" height="28.34" fill="#aa8b4d"/>
<rect x="324.38" y="193.84" width="28.34" height="28.34" fill="#a78647"/>
<rect x="351.72" y="193.84" width="28.34" height="28.34" fill="#a48040"/>
<rect x="379.06" y="193.84" width="27.34" height="28.34" fill="#a17a3a"/>
<rect x="269.70" y="221.18" width="28.34" height="28.34" fill="#b5a165"/>
<rect x="297.04" y="221.18" width="28.34" height="28.34" fill="#b39c5f"/>
<rect x="324.38" y="221.18" width="28.34" height="28.34" fill="#b0975a"/>
<rect x="351.72" y="221.18" width="28.34" height="28.34" fill="#ae9255"/>
<rect x="379.06" y="221.18" width="27.34" height="28.34" fill="#ab8d4f"/>
<rect x="269.70" y="248.52" width="28.34" height="28.34" fill="#bdaf74"/>
<rect x="297.04" y="248.52" width="28.34" height="28.34" fill="#baab70"/>
<rect x="324.38" y="248.52" width="28.34" height="28.34" fill="#b8a76b"/>
<rect x="351.72" y="248.52" width="28.34" height="28.34" fill="#b6a266"/>
<rect x="379.06" y="248.52" width="27.34" height="28.34" fill="#b49e61"/>
<rect x="269.70" y="275.86" width="28.34" height="27.34" fill="#c3bb82"/>
<rect x="297.04" y="275.86" width="28.34" height="27.34" fill="#c1b87e"/>
<rect x="324.38" y="275.86" width="28.34" height="27.34" fill="#bfb47a"/>
<rect x="351.72" y="275.86" width="28.34" height="27.34" fill="#bdb076"/>
<rect x="379.06" y="275.86" width="27.34" height="27.34" fill="#bbac71"/>
<text x="283.37" y="182.42" font-size="6.3" text-anchor="middle" fill="#000" stroke="none">12.05</text>
<text x="310.71" y="182.42" font-size="6.3" text-anchor="middle" fill="#000" stroke="none">12.58</text>
<text x="338.05" y="182.42" font-size="6.3" text-anchor="middle" fill="#000" stroke="none">13.13</text>
<text x="365.39" y="182.42" font-size="6.3" text-anchor="middle" fill="#000" stroke="none">13.70</text>
<text x="392.73" y="182.42" font-size="6.3" text-anchor="middle" fill="#000" stroke="none">14.29</text>
<text x="283.37" y="209.76" font-size="6.3" text-anchor="middle" fill="#000" stroke="none">10.41</text>
<text x="310.71" y="209.76" font-size="6.3" text-anchor="middle" fill="#000" stroke="none">10.87</text>
<text x="338.05" y="209.76" font-size="6.3" text-anchor="middle" fill="#000" stroke="none">11.36</text>
<text x="365.39" y="209.76" font-size="6.3" text-anchor="middle" fill="#000" stroke="none">11.86</text>
<text x="392.73" y="209.76" font-size="6.3" text-anchor="middle" fill="#000" stroke="none">12.39</text>
<text x="283.37" y="237.10" font-size="6.3" text-anchor="middle" fill="#000" stroke="none">8.97</text>
<text x="310.71" y="237.10" font-size="6.3" text-anchor="middle" fill="#000" stroke="none">9.38</text>
<text x="338.05" y="237.10" font-size="6.3" text-anchor="middle" fill="#000" stroke="none">9.80</text>
<text x="365.39" y="237.10" font-size="6.3" text-anchor="middle" fill="#000" stroke="none">10.24</text>
<text x="392.73" y="237.10" font-size="6.3" text-anchor="middle" fill="#000" stroke="none">10.71</text>
<text x="283.37" y="264.44" font-size="6.3" text-anchor="middle" fill="#000" stroke="none">7.71</text>
<text x="310.71" y="264.44" font-size="6.3" text-anchor="middle" fill="#000" stroke="none">8.07</text>
<text x="338.05" y="264.44" font-size="6.3" text-anchor="middle" fill="#000" stroke="none">8.44</text>
<text x="365.39" y="264.44" font-size="6.3" text-anchor="middle" fill="#000" stroke="none">8.83</text>
<text x="392.73" y="264.44" font-size="6.3" text-anchor="middle" fill="#000" stroke="none">9.23</text>
<text x="283.37" y="291.78" font-size="6.3" text-anchor="middle" fill="#000" stroke="none">6.62</text>
<text x="310.71" y="291.78" font-size="6.3" text-anchor="middle" fill="#000" stroke="none">6.93</text>
<text x="338.05" y="291.78" font-size="6.3" text-anchor="middle" fill="#000" stroke="none">7.25</text>
<text x="365.39" y="291.78" font-size="6.3" text-anchor="middle" fill="#000" stroke="none">7.59</text>
<text x="392.73" y="291.78" font-size="6.3" text-anchor="middle" fill="#000" stroke="none">7.94</text>
<line x1="267.70" y1="180.17" x2="269.70" y2="180.17" stroke="#888" stroke-width="0.5"/>
<text x="267.10" y="181.77" font-size="4.6" text-anchor="end" fill="#333" stroke="#333" stroke-width="0.09" >90</text>
<line x1="267.70" y1="207.51" x2="269.70" y2="207.51" stroke="#888" stroke-width="0.5"/>
<text x="267.10" y="209.11" font-size="4.6" text-anchor="end" fill="#333" stroke="#333" stroke-width="0.09" >80</text>
<line x1="267.70" y1="234.85" x2="269.70" y2="234.85" stroke="#888" stroke-width="0.5"/>
<text x="267.10" y="236.45" font-size="4.6" text-anchor="end" fill="#333" stroke="#333" stroke-width="0.09" >70</text>
<line x1="267.70" y1="262.19" x2="269.70" y2="262.19" stroke="#888" stroke-width="0.5"/>
<text x="267.10" y="263.79" font-size="4.6" text-anchor="end" fill="#333" stroke="#333" stroke-width="0.09" >60</text>
<line x1="267.70" y1="289.53" x2="269.70" y2="289.53" stroke="#888" stroke-width="0.5"/>
<text x="267.10" y="291.13" font-size="4.6" text-anchor="end" fill="#333" stroke="#333" stroke-width="0.09" >50</text>
<line x1="283.37" y1="303.20" x2="283.37" y2="304.70" stroke="#888" stroke-width="0.5"/>
<text x="283.37" y="309.80" font-size="4.6" text-anchor="middle" fill="#333" stroke="#333" stroke-width="0.09" >70</text>
<line x1="310.71" y1="303.20" x2="310.71" y2="304.70" stroke="#888" stroke-width="0.5"/>
<text x="310.71" y="309.80" font-size="4.6" text-anchor="middle" fill="#333" stroke="#333" stroke-width="0.09" >80</text>
<line x1="338.05" y1="303.20" x2="338.05" y2="304.70" stroke="#888" stroke-width="0.5"/>
<text x="338.05" y="309.80" font-size="4.6" text-anchor="middle" fill="#333" stroke="#333" stroke-width="0.09" >90</text>
<line x1="365.39" y1="303.20" x2="365.39" y2="304.70" stroke="#888" stroke-width="0.5"/>
<text x="365.39" y="309.80" font-size="4.6" text-anchor="middle" fill="#333" stroke="#333" stroke-width="0.09" >100</text>
<line x1="392.73" y1="303.20" x2="392.73" y2="304.70" stroke="#888" stroke-width="0.5"/>
<text x="392.73" y="309.80" font-size="4.6" text-anchor="middle" fill="#333" stroke="#333" stroke-width="0.09" >110</text>
<text x="338.05" y="319.10" font-size="6.4" text-anchor="middle" fill="#000" font-weight="bold" textLength="67.6" lengthAdjust="spacingAndGlyphs" stroke="#000" stroke-width="0.09" >FPG, mg/dL (<tspan font-style="italic">P</tspan> = 0.027)</text>
<text x="254.50" y="234.30" font-size="6.6" text-anchor="middle" fill="#000" font-weight="bold" textLength="69.2" lengthAdjust="spacingAndGlyphs" transform="rotate(-90 254.50 234.30)" stroke="#000" stroke-width="0.09" >DBP, mmHg (<tspan font-style="italic">P</tspan> &lt; 0.001)</text>
<defs><linearGradient id="gE" x1="0" y1="0" x2="0" y2="1"><stop offset="0.00" stop-color="#966522"/><stop offset="0.10" stop-color="#9b6e2c"/><stop offset="0.20" stop-color="#a07837"/><stop offset="0.30" stop-color="#a58141"/><stop offset="0.40" stop-color="#aa8a4c"/><stop offset="0.50" stop-color="#ae9456"/><stop offset="0.60" stop-color="#b39d61"/><stop offset="0.70" stop-color="#b8a66b"/><stop offset="0.80" stop-color="#bdb075"/><stop offset="0.90" stop-color="#c2b980"/><stop offset="1.00" stop-color="#c7c28a"/></linearGradient></defs>
<rect x="419.90" y="166.3" width="11.8" height="136.90" fill="url(#gE)" stroke="#777" stroke-width="0.7"/>
<line x1="418.10" y1="203.30" x2="419.90" y2="203.30" stroke="#666" stroke-width="0.5"/>
<line x1="431.70" y1="203.30" x2="433.50" y2="203.30" stroke="#666" stroke-width="0.5"/>
<text x="437.30" y="204.90" font-size="4.6" text-anchor="start" fill="#333" stroke="#333" stroke-width="0.09" >12</text>
<line x1="418.10" y1="269.10" x2="419.90" y2="269.10" stroke="#666" stroke-width="0.5"/>
<line x1="431.70" y1="269.10" x2="433.50" y2="269.10" stroke="#666" stroke-width="0.5"/>
<text x="437.30" y="270.70" font-size="4.6" text-anchor="start" fill="#333" stroke="#333" stroke-width="0.09" >8</text>
<text x="443.90" y="234.50" font-size="6.3" text-anchor="middle" fill="#111" font-weight="bold" textLength="38" lengthAdjust="spacingAndGlyphs" transform="rotate(90 443.90 234.50)" stroke="#111" stroke-width="0.09" >Incidence, %</text>
<text x="240.20" y="162.90" font-size="12.2" text-anchor="start" fill="#000" font-weight="bold" stroke="#000" stroke-width="0.09" >E</text>
<rect x="502.10" y="166.50" width="28.34" height="28.34" fill="#cb393a"/>
<rect x="529.44" y="166.50" width="28.34" height="28.34" fill="#c62b2d"/>
<rect x="556.78" y="166.50" width="28.34" height="28.34" fill="#c11d1f"/>
<rect x="584.12" y="166.50" width="28.34" height="28.34" fill="#bb0f11"/>
<rect x="611.46" y="166.50" width="27.34" height="28.34" fill="#b60002"/>
<rect x="502.10" y="193.84" width="28.34" height="28.34" fill="#da6364"/>
<rect x="529.44" y="193.84" width="28.34" height="28.34" fill="#d65859"/>
<rect x="556.78" y="193.84" width="28.34" height="28.34" fill="#d24c4d"/>
<rect x="584.12" y="193.84" width="28.34" height="28.34" fill="#cd3f40"/>
<rect x="611.46" y="193.84" width="27.34" height="28.34" fill="#c83233"/>
<rect x="502.10" y="221.18" width="28.34" height="28.34" fill="#e88989"/>
<rect x="529.44" y="221.18" width="28.34" height="28.34" fill="#e47e7f"/>
<rect x="556.78" y="221.18" width="28.34" height="28.34" fill="#e17475"/>
<rect x="584.12" y="221.18" width="28.34" height="28.34" fill="#dc696a"/>
<rect x="611.46" y="221.18" width="27.34" height="28.34" fill="#d85e5f"/>
<rect x="502.10" y="248.52" width="28.34" height="28.34" fill="#f4a8a9"/>
<rect x="529.44" y="248.52" width="28.34" height="28.34" fill="#f1a0a0"/>
<rect x="556.78" y="248.52" width="28.34" height="28.34" fill="#ed9797"/>
<rect x="584.12" y="248.52" width="28.34" height="28.34" fill="#ea8d8e"/>
<rect x="611.46" y="248.52" width="27.34" height="28.34" fill="#e68384"/>
<rect x="502.10" y="275.86" width="28.34" height="27.34" fill="#fec4c4"/>
<rect x="529.44" y="275.86" width="28.34" height="27.34" fill="#fbbcbd"/>
<rect x="556.78" y="275.86" width="28.34" height="27.34" fill="#f8b5b5"/>
<rect x="584.12" y="275.86" width="28.34" height="27.34" fill="#f5adad"/>
<rect x="611.46" y="275.86" width="27.34" height="27.34" fill="#f2a4a4"/>
<text x="515.77" y="182.42" font-size="6.3" text-anchor="middle" fill="#000" stroke="none">11.25</text>
<text x="543.11" y="182.42" font-size="6.3" text-anchor="middle" fill="#000" stroke="none">11.77</text>
<text x="570.45" y="182.42" font-size="6.3" text-anchor="middle" fill="#000" stroke="none">12.30</text>
<text x="597.79" y="182.42" font-size="6.3" text-anchor="middle" fill="#000" stroke="none">12.86</text>
<text x="625.13" y="182.42" font-size="6.3" text-anchor="middle" fill="#000" stroke="none">13.43</text>
<text x="515.77" y="209.76" font-size="6.3" text-anchor="middle" fill="#000" stroke="none">9.62</text>
<text x="543.11" y="209.76" font-size="6.3" text-anchor="middle" fill="#000" stroke="none">10.06</text>
<text x="570.45" y="209.76" font-size="6.3" text-anchor="middle" fill="#000" stroke="none">10.53</text>
<text x="597.79" y="209.76" font-size="6.3" text-anchor="middle" fill="#000" stroke="none">11.01</text>
<text x="625.13" y="209.76" font-size="6.3" text-anchor="middle" fill="#000" stroke="none">11.52</text>
<text x="515.77" y="237.10" font-size="6.3" text-anchor="middle" fill="#000" stroke="none">8.19</text>
<text x="543.11" y="237.10" font-size="6.3" text-anchor="middle" fill="#000" stroke="none">8.58</text>
<text x="570.45" y="237.10" font-size="6.3" text-anchor="middle" fill="#000" stroke="none">8.98</text>
<text x="597.79" y="237.10" font-size="6.3" text-anchor="middle" fill="#000" stroke="none">9.41</text>
<text x="625.13" y="237.10" font-size="6.3" text-anchor="middle" fill="#000" stroke="none">9.84</text>
<text x="515.77" y="264.44" font-size="6.3" text-anchor="middle" fill="#000" stroke="none">6.97</text>
<text x="543.11" y="264.44" font-size="6.3" text-anchor="middle" fill="#000" stroke="none">7.30</text>
<text x="570.45" y="264.44" font-size="6.3" text-anchor="middle" fill="#000" stroke="none">7.65</text>
<text x="597.79" y="264.44" font-size="6.3" text-anchor="middle" fill="#000" stroke="none">8.01</text>
<text x="625.13" y="264.44" font-size="6.3" text-anchor="middle" fill="#000" stroke="none">8.39</text>
<text x="515.77" y="291.78" font-size="6.3" text-anchor="middle" fill="#000" stroke="none">5.91</text>
<text x="543.11" y="291.78" font-size="6.3" text-anchor="middle" fill="#000" stroke="none">6.20</text>
<text x="570.45" y="291.78" font-size="6.3" text-anchor="middle" fill="#000" stroke="none">6.50</text>
<text x="597.79" y="291.78" font-size="6.3" text-anchor="middle" fill="#000" stroke="none">6.81</text>
<text x="625.13" y="291.78" font-size="6.3" text-anchor="middle" fill="#000" stroke="none">7.14</text>
<line x1="500.10" y1="180.17" x2="502.10" y2="180.17" stroke="#888" stroke-width="0.5"/>
<text x="499.50" y="181.77" font-size="4.6" text-anchor="end" fill="#333" stroke="#333" stroke-width="0.09" >100</text>
<line x1="500.10" y1="207.51" x2="502.10" y2="207.51" stroke="#888" stroke-width="0.5"/>
<text x="499.50" y="209.11" font-size="4.6" text-anchor="end" fill="#333" stroke="#333" stroke-width="0.09" >90</text>
<line x1="500.10" y1="234.85" x2="502.10" y2="234.85" stroke="#888" stroke-width="0.5"/>
<text x="499.50" y="236.45" font-size="4.6" text-anchor="end" fill="#333" stroke="#333" stroke-width="0.09" >80</text>
<line x1="500.10" y1="262.19" x2="502.10" y2="262.19" stroke="#888" stroke-width="0.5"/>
<text x="499.50" y="263.79" font-size="4.6" text-anchor="end" fill="#333" stroke="#333" stroke-width="0.09" >70</text>
<line x1="500.10" y1="289.53" x2="502.10" y2="289.53" stroke="#888" stroke-width="0.5"/>
<text x="499.50" y="291.13" font-size="4.6" text-anchor="end" fill="#333" stroke="#333" stroke-width="0.09" >60</text>
<line x1="515.77" y1="303.20" x2="515.77" y2="304.70" stroke="#888" stroke-width="0.5"/>
<text x="515.77" y="309.80" font-size="4.6" text-anchor="middle" fill="#333" stroke="#333" stroke-width="0.09" >70</text>
<line x1="543.11" y1="303.20" x2="543.11" y2="304.70" stroke="#888" stroke-width="0.5"/>
<text x="543.11" y="309.80" font-size="4.6" text-anchor="middle" fill="#333" stroke="#333" stroke-width="0.09" >80</text>
<line x1="570.45" y1="303.20" x2="570.45" y2="304.70" stroke="#888" stroke-width="0.5"/>
<text x="570.45" y="309.80" font-size="4.6" text-anchor="middle" fill="#333" stroke="#333" stroke-width="0.09" >90</text>
<line x1="597.79" y1="303.20" x2="597.79" y2="304.70" stroke="#888" stroke-width="0.5"/>
<text x="597.79" y="309.80" font-size="4.6" text-anchor="middle" fill="#333" stroke="#333" stroke-width="0.09" >100</text>
<line x1="625.13" y1="303.20" x2="625.13" y2="304.70" stroke="#888" stroke-width="0.5"/>
<text x="625.13" y="309.80" font-size="4.6" text-anchor="middle" fill="#333" stroke="#333" stroke-width="0.09" >110</text>
<text x="570.45" y="319.10" font-size="6.4" text-anchor="middle" fill="#000" font-weight="bold" textLength="67.6" lengthAdjust="spacingAndGlyphs" stroke="#000" stroke-width="0.09" >FPG, mg/dL (<tspan font-style="italic">P</tspan> = 0.023)</text>
<text x="487.00" y="234.30" font-size="6.6" text-anchor="middle" fill="#000" font-weight="bold" textLength="69.2" lengthAdjust="spacingAndGlyphs" transform="rotate(-90 487.00 234.30)" stroke="#000" stroke-width="0.09" >MAP, mmHg (<tspan font-style="italic">P</tspan> &lt; 0.001)</text>
<defs><linearGradient id="gF" x1="0" y1="0" x2="0" y2="1"><stop offset="0.00" stop-color="#b60002"/><stop offset="0.10" stop-color="#bd1415"/><stop offset="0.20" stop-color="#c42729"/><stop offset="0.30" stop-color="#cc3b3c"/><stop offset="0.40" stop-color="#d34e50"/><stop offset="0.50" stop-color="#da6263"/><stop offset="0.60" stop-color="#e17676"/><stop offset="0.70" stop-color="#e8898a"/><stop offset="0.80" stop-color="#f09d9d"/><stop offset="0.90" stop-color="#f7b0b1"/><stop offset="1.00" stop-color="#fec4c4"/></linearGradient></defs>
<rect x="652.60" y="166.3" width="11.9" height="136.90" fill="url(#gF)" stroke="#777" stroke-width="0.7"/>
<line x1="650.80" y1="192.00" x2="652.60" y2="192.00" stroke="#666" stroke-width="0.5"/>
<line x1="664.50" y1="192.00" x2="666.30" y2="192.00" stroke="#666" stroke-width="0.5"/>
<text x="670.10" y="193.60" font-size="4.6" text-anchor="start" fill="#333" stroke="#333" stroke-width="0.09" >12</text>
<line x1="650.80" y1="228.70" x2="652.60" y2="228.70" stroke="#666" stroke-width="0.5"/>
<line x1="664.50" y1="228.70" x2="666.30" y2="228.70" stroke="#666" stroke-width="0.5"/>
<text x="670.10" y="230.30" font-size="4.6" text-anchor="start" fill="#333" stroke="#333" stroke-width="0.09" >10</text>
<line x1="650.80" y1="265.20" x2="652.60" y2="265.20" stroke="#666" stroke-width="0.5"/>
<line x1="664.50" y1="265.20" x2="666.30" y2="265.20" stroke="#666" stroke-width="0.5"/>
<text x="670.10" y="266.80" font-size="4.6" text-anchor="start" fill="#333" stroke="#333" stroke-width="0.09" >8</text>
<text x="677.60" y="234.50" font-size="6.3" text-anchor="middle" fill="#111" font-weight="bold" textLength="38" lengthAdjust="spacingAndGlyphs" transform="rotate(90 677.60 234.50)" stroke="#111" stroke-width="0.09" >Incidence, %</text>
<text x="474.60" y="162.90" font-size="12.2" text-anchor="start" fill="#000" font-weight="bold" stroke="#000" stroke-width="0.09" >F</text>
</svg>
</body></html>
